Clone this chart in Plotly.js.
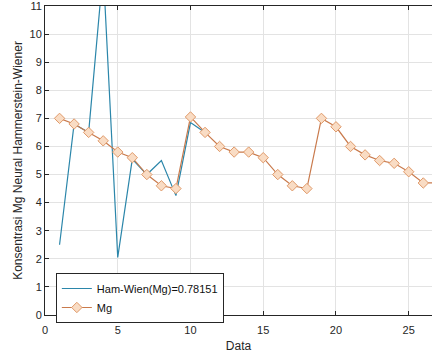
<!DOCTYPE html>
<html>
<head>
<meta charset="utf-8">
<script src="https://cdn.plot.ly/plotly-3.0.1.min.js"></script>
<style>html,body{margin:0;padding:0;background:#fff;}#chart{width:432px;height:355px;}</style>
</head>
<body>
<div id="chart"></div>
<script>
const hwX = [1, 2, 3, 4, 5, 6, 7, 8, 9, 10, 11];
const hwY = [2.5, 6.8, 6.5, 12.3, 2.05, 5.55, 5.0, 5.5, 4.25, 6.85, 6.5];
const mgX = [1, 2, 3, 4, 5, 6, 7, 8, 9, 10, 11, 12, 13, 14, 15, 16, 17, 18, 19, 20, 21, 22, 23, 24, 25, 26, 27];
const mgY = [7.0, 6.8, 6.5, 6.2, 5.8, 5.6, 5.0, 4.6, 4.5, 7.05, 6.5, 6.0, 5.8, 5.8, 5.6, 5.0, 4.6, 4.5, 7.0, 6.7, 6.0, 5.7, 5.5, 5.4, 5.1, 4.7, 4.7];
const xTicks = [0, 5, 10, 15, 20, 25];
const yTicks = [0, 1, 2, 3, 4, 5, 6, 7, 8, 9, 10, 11];
const names = ['Ham-Wien(Mg)=0.78151', 'Mg'];

const traces = [
  {x: hwX, y: hwY, name: names[0], mode: 'lines', type: 'scatter',
   line: {color: '#2b86aa', width: 1.2}},
  {x: mgX, y: mgY, name: names[1], mode: 'lines+markers', type: 'scatter',
   line: {color: '#c97a4c', width: 1.2},
   marker: {symbol: 'diamond', size: 8, color: '#f9dcc4', line: {color: '#e09a6a', width: 1}}}
];

const fam = 'Liberation Sans, Arial, sans-serif';
const axisFont = {family: fam, size: 11, color: '#262626'};
const layout = {
  width: 432, height: 355,
  margin: {l: 45, r: 0, t: 6, b: 40},
  paper_bgcolor: '#fff', plot_bgcolor: '#fff',
  font: axisFont,
  showlegend: true,
  legend: {x: 0.028, y: 0.136, xanchor: 'left', yanchor: 'top',
    bgcolor: '#fff', bordercolor: '#262626', borderwidth: 1,
    font: {family: fam, size: 11, color: '#111'},
    tracegroupgap: 0, itemwidth: 30},
  xaxis: {range: [0, 26.6], tickvals: xTicks, ticktext: xTicks.map(String),
    showgrid: true, gridcolor: '#e3e3e3', zeroline: false,
    showline: true, linecolor: '#262626', linewidth: 1, mirror: 'ticks',
    ticks: 'inside', ticklen: 4, tickcolor: '#262626',
    tickfont: axisFont, ticklabelstandoff: 5,
    title: {text: 'Data', font: {family: fam, size: 12, color: '#262626'}, standoff: 6}},
  yaxis: {range: [0, 11], tickvals: yTicks, ticktext: yTicks.map(String),
    showgrid: true, gridcolor: '#e3e3e3', zeroline: false,
    showline: true, linecolor: '#262626', linewidth: 1,
    ticks: 'inside', ticklen: 4, tickcolor: '#262626',
    tickfont: axisFont, ticklabeloverflow: 'allow',
    title: {text: 'Konsentrasi Mg Neural Hammerstein-Wiener', font: {family: fam, size: 12, color: '#262626'}, standoff: 4}}
};
Plotly.newPlot('chart', traces, layout, {staticPlot: true, displayModeBar: false});
</script>
</body>
</html>
